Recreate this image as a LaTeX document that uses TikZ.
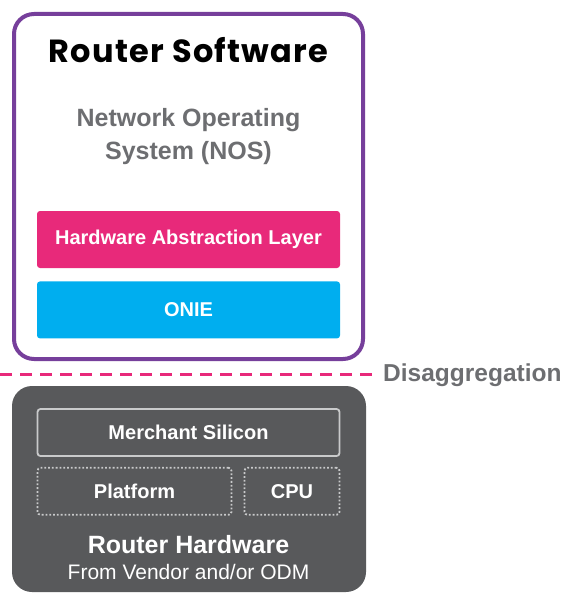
\documentclass[tikz,border=0pt]{standalone}
\usepackage{fontspec}
\setmainfont{Liberation Sans}
\newfontfamily\titlefont[LetterSpace=4]{Poppins}
\usetikzlibrary{positioning}

\definecolor{swpurple}{HTML}{763F9B}
\definecolor{halpink}{HTML}{E8297A}
\definecolor{oniecyan}{HTML}{00AEEF}
\definecolor{hwgrey}{HTML}{58595B}
\definecolor{txtgrey}{HTML}{6D6E71}
\definecolor{edgegrey}{HTML}{C9CACB}

\tikzset{
  layerbox/.style={rounded corners=3pt, minimum width=303pt, minimum height=57pt,
    text=white, font=\fontsize{20}{24}\selectfont\bfseries, inner sep=0pt},
  hwpart/.style={rounded corners=3pt, minimum height=47pt, line width=1.8pt,
    text=white, font=\fontsize{20}{24}\selectfont\bfseries, inner sep=0pt},
}

\begin{document}
\begin{tikzpicture}[x=1pt, y=-1pt]
    \useasboundingbox (0,0) rectangle (566,594);

    % Software side
    \node[draw=swpurple, line width=4pt, rounded corners=20pt,
          minimum width=349pt, minimum height=345pt] (sw) at (188.5,186.5) {};
    \node[font=\titlefont\fontsize{32}{36}\selectfont\bfseries] (swtitle) at (188.5,50) {Router Software};
    \node[text=txtgrey, font=\fontsize{25}{33}\selectfont\bfseries, align=center] (nos) at (188.5,137) {Network Operating\\System (NOS)};
    \node[layerbox, fill=halpink] (hal) at (188.5,239.5) {Hardware Abstraction Layer};
    \node[layerbox, fill=oniecyan, below=13pt of hal] (onie) {ONIE};

    % Split line
    \coordinate (splitstart) at (0,374.5);
    \node[text=txtgrey, font=\fontsize{24.5}{28}\selectfont\bfseries, anchor=west, inner sep=0pt] (disagg) at (383,375) {Disaggregation};
    \draw[halpink, line width=3pt, dash pattern=on 12pt off 8pt] (splitstart) -- ([xshift=-8pt, yshift=0.5pt]disagg.west);

    % Hardware side
    \node[fill=hwgrey, rounded corners=20pt, minimum width=354pt, minimum height=206pt] (hw) at (189,489) {};
    \node[hwpart, draw=edgegrey, minimum width=302pt] (silicon) at (188.5,432.5) {Merchant Silicon};
    \node[hwpart, draw=edgegrey, dotted, minimum width=194pt, anchor=north west] (platform) at ([yshift=-10pt]silicon.south west) {Platform};
    \node[hwpart, draw=edgegrey, dotted, minimum width=95pt, anchor=north east] (cpu) at ([yshift=-10pt]silicon.south east) {CPU};
    \node[text=white, font=\fontsize{25}{28}\selectfont\bfseries] (hwtitle) at (188.5,545) {Router Hardware};
    \node[text=white, font=\fontsize{21}{24}\selectfont] (hwsub) at (188.5,572) {From Vendor and/or ODM};
\end{tikzpicture}
\end{document}
